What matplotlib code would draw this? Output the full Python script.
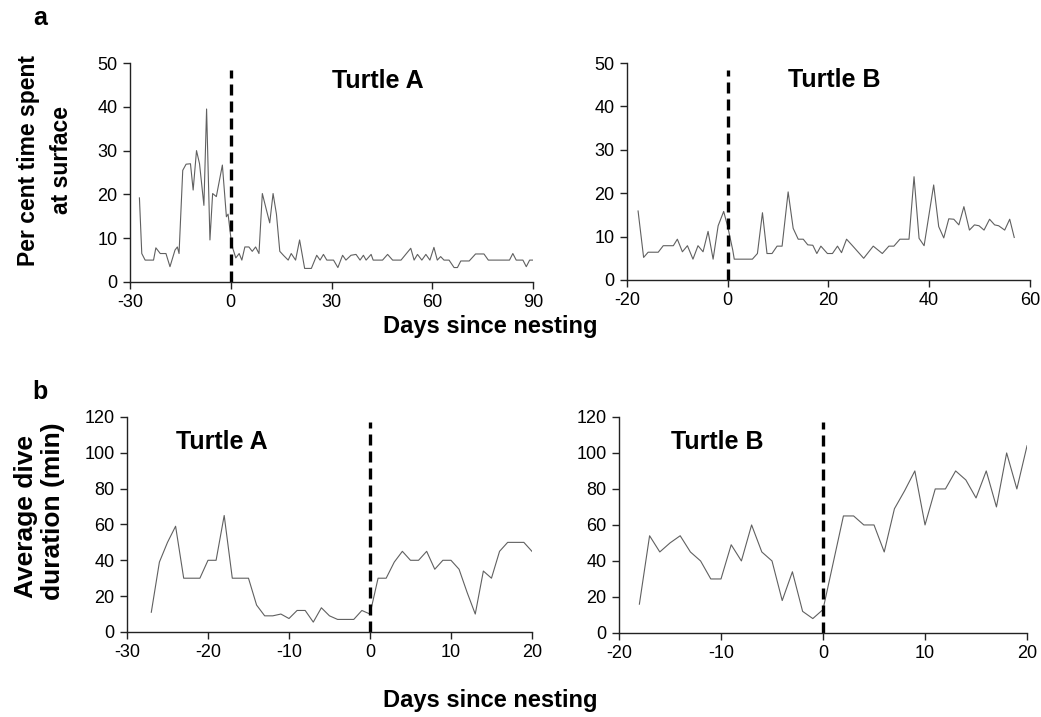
import matplotlib
matplotlib.use("Agg")
import matplotlib.pyplot as plt

plt.rcParams['font.family'] = ['Liberation Sans', 'DejaVu Sans']
plt.rcParams['axes.unicode_minus'] = False

# ---------------- datos ----------------
# a) porcentaje de tiempo en superficie, tortuga A
dias_aA = [-27.2, -26.5, -25.5, -23, -22.3, -21, -19.3, -18.1, -16.6, -15.9, -15.4,
           -14.3, -13.3, -12, -11.2, -10.2, -9.3, -8, -7.2, -6.2, -5.4, -4.3, -2.5,
           -1.3, -0.8, 0, 0.6, 1.5, 2.5, 3.3, 4.2, 5.4, 6.4, 7.4, 8.4, 9.4, 10.6,
           11.6, 12.6, 13.6, 14.6, 15.8, 17.1, 18, 19.3, 20.5, 22, 24, 25.6, 26.6,
           27.6, 28.6, 30.6, 31.9, 33.3, 34.3, 35.8, 37.3, 38.5, 39.5, 40.3, 41.8,
           42.4, 45.2, 46.7, 48.2, 50.7, 52.2, 53.6, 54.6, 55.6, 56.9, 58.1, 59.3,
           60.5, 61.5, 62.5, 63.5, 65, 66.5, 67.5, 68.5, 71, 72.9, 75.4, 76.7, 80,
           83, 84, 85, 87, 88, 89, 90]
pct_aA = [19.2, 6.5, 5, 5, 7.8, 6.5, 6.5, 3.5, 7.3, 8, 6.5,
          25.5, 26.9, 27, 21, 30, 27, 17.5, 39.5, 9.6, 20.2, 19.5, 26.7,
          14.9, 15.5, 10.3, 7.7, 5.5, 6.5, 5, 8, 8, 7, 8, 6.5, 20.2, 16.5,
          13.5, 20.2, 15.5, 7, 6, 5, 6.5, 5, 9.6, 3.1, 3.1, 6.1, 5,
          6.3, 5, 5, 3.3, 6.1, 5, 6.1, 6.3, 5, 6.1, 5, 6.3,
          5, 5, 6.3, 5, 5, 6.4, 7.7, 5, 6.3, 5, 6.3, 5,
          7.9, 5, 5.8, 5, 5, 3.3, 3.3, 4.8, 4.8, 6.4, 6.4, 5, 5,
          5, 6.5, 5, 5, 3.5, 5, 5]

# a) porcentaje de tiempo en superficie, tortuga B
dias_aB = [-17.8, -16.7, -15.8, -13.8, -12.8, -10.8, -10.0, -9.0, -8.0, -6.9, -5.9,
           -4.9, -3.9, -2.9, -1.9, -0.8, 0.0, 1.0, 1.3, 4.9, 5.9, 6.9, 7.8, 8.8,
           9.8, 10.8, 12.0, 13.0, 14.0, 15.0, 15.9, 16.9, 17.7, 18.5, 19.8, 20.8,
           21.8, 22.6, 23.6, 24.7, 27.0, 28.9, 30.7, 32, 33, 34.2, 36, 37, 38, 39,
           40.9, 41.9, 42.9, 43.9, 44.9, 45.9, 46.9, 48, 49, 49.9, 50.9, 52, 53,
           53.8, 55, 56, 56.9]
pct_aB = [15.9, 5.2, 6.4, 6.4, 7.9, 7.9, 9.4, 6.5, 7.9, 4.8, 7.9,
          6.5, 11.2, 4.8, 12.5, 15.8, 12.3, 6.9, 4.8, 4.8, 6.1, 15.5, 6.1, 6.1,
          7.8, 7.8, 20.3, 11.9, 9.4, 9.4, 8.1, 8.0, 6.1, 7.8, 6.1, 6.1,
          7.8, 6.3, 9.4, 8.0, 5.0, 7.8, 6.1, 7.8, 7.8, 9.4, 9.4, 23.8, 9.6, 7.9,
          21.9, 12.3, 9.7, 14.1, 14, 12.7, 16.9, 11.5, 12.7, 12.5, 11.5, 14, 12.7,
          12.5, 11.5, 14, 9.8]

# b) duracion media de buceo (min)
dias_bA = list(range(-27, 21))
dur_bA = [11, 39, 50, 59, 30, 30, 30, 40, 40, 65, 30, 30, 30, 15, 9, 9, 10, 7.5,
          12, 12, 5.5, 13.5, 9, 7, 7, 7, 12, 10, 30, 30, 39, 45, 40, 40, 45, 35,
          40, 40, 35, 22, 10, 34, 30, 45, 50, 50, 50, 45]

dias_bB = list(range(-18, 21))
dur_bB = [16, 54, 45, 50, 54, 45, 40, 30, 30, 49, 40, 60, 45, 40, 18, 34, 12, 8,
          13, 39, 65, 65, 60, 60, 45, 69, 79, 90, 60, 80, 80, 90, 85, 75, 90, 70,
          100, 80, 104]

#---------------------------- GRAFICOS ----------------------------
fig = plt.figure(figsize=(10.41, 7.17), dpi=100)

paneles = [
    # posicion, x, y, xlim, xticks, ylim, yticks, titulo, pos titulo, alto linea corte
    ([0.1249, 0.6067, 0.3871, 0.3054], dias_aA, pct_aA, (-30, 90), [-30, 0, 30, 60, 90],
     (0, 50), [0, 10, 20, 30, 40, 50], "Turtle A", (0.615, 0.92), 48.5),
    ([0.6023, 0.6095, 0.3870, 0.3026], dias_aB, pct_aB, (-20, 60), [-20, 0, 20, 40, 60],
     (0, 50), [0, 10, 20, 30, 40, 50], "Turtle B", (0.515, 0.92), 48.5),
    ([0.1220, 0.1186, 0.3890, 0.2999], dias_bA, dur_bA, (-30, 20), [-30, -20, -10, 0, 10, 20],
     (0, 120), [0, 20, 40, 60, 80, 100, 120], "Turtle A", (0.235, 0.885), 117),
    ([0.5946, 0.1172, 0.3920, 0.3013], dias_bB, dur_bB, (-20, 20), [-20, -10, 0, 10, 20],
     (0, 120), [0, 20, 40, 60, 80, 100, 120], "Turtle B", (0.24, 0.886), 117),
]

for pos, xs, ys, xl, xt, yl, yt, tit, tpos, hcorte in paneles:
    ax = fig.add_axes(pos)
    ax.plot(xs, ys, color='#606060', lw=0.8)
    ax.plot([0, 0], [0, hcorte], color='black', lw=2.4,
            linestyle=(0, (3.3, 1.8)), clip_on=False)
    ax.set_xlim(xl)
    ax.set_ylim(yl)
    ax.set_xticks(xt)
    ax.set_yticks(yt)
    for s in ['top', 'right']:
        ax.spines[s].set_visible(False)
    for s in ['left', 'bottom']:
        ax.spines[s].set_color('#222222')
        ax.spines[s].set_linewidth(1.0)
    ax.tick_params(direction='out', length=5, width=1.0, color='#222222',
                   labelsize=13, pad=4)
    ax.text(tpos[0], tpos[1], tit, transform=ax.transAxes, ha='center', va='center',
            fontsize=18, fontweight='bold')

# etiquetas de los ejes y letras de panel
fig.text(40/1041, 1-18/717, "a", fontsize=18, fontweight='bold', ha='center', va='center')
fig.text(40/1041, 1-392/717, "b", fontsize=18, fontweight='bold', ha='center', va='center')

fig.text(29/1041, 1-160/717, "Per cent time spent", rotation=90, fontsize=16.5,
         fontweight='bold', ha='center', va='center')
fig.text(62/1041, 1-160/717, "at surface", rotation=90, fontsize=16.5,
         fontweight='bold', ha='center', va='center')
fig.text(26/1041, 1-516/717, "Average dive", rotation=90, fontsize=19,
         fontweight='bold', ha='center', va='center')
fig.text(53/1041, 1-511/717, "duration (min)", rotation=90, fontsize=19,
         fontweight='bold', ha='center', va='center')

fig.text(490/1041, 1-327/717, "Days since nesting", fontsize=17, fontweight='bold',
         ha='center', va='center')
fig.text(490/1041, 1-700/717, "Days since nesting", fontsize=17, fontweight='bold',
         ha='center', va='center')

plt.savefig("out.png", dpi=100)
